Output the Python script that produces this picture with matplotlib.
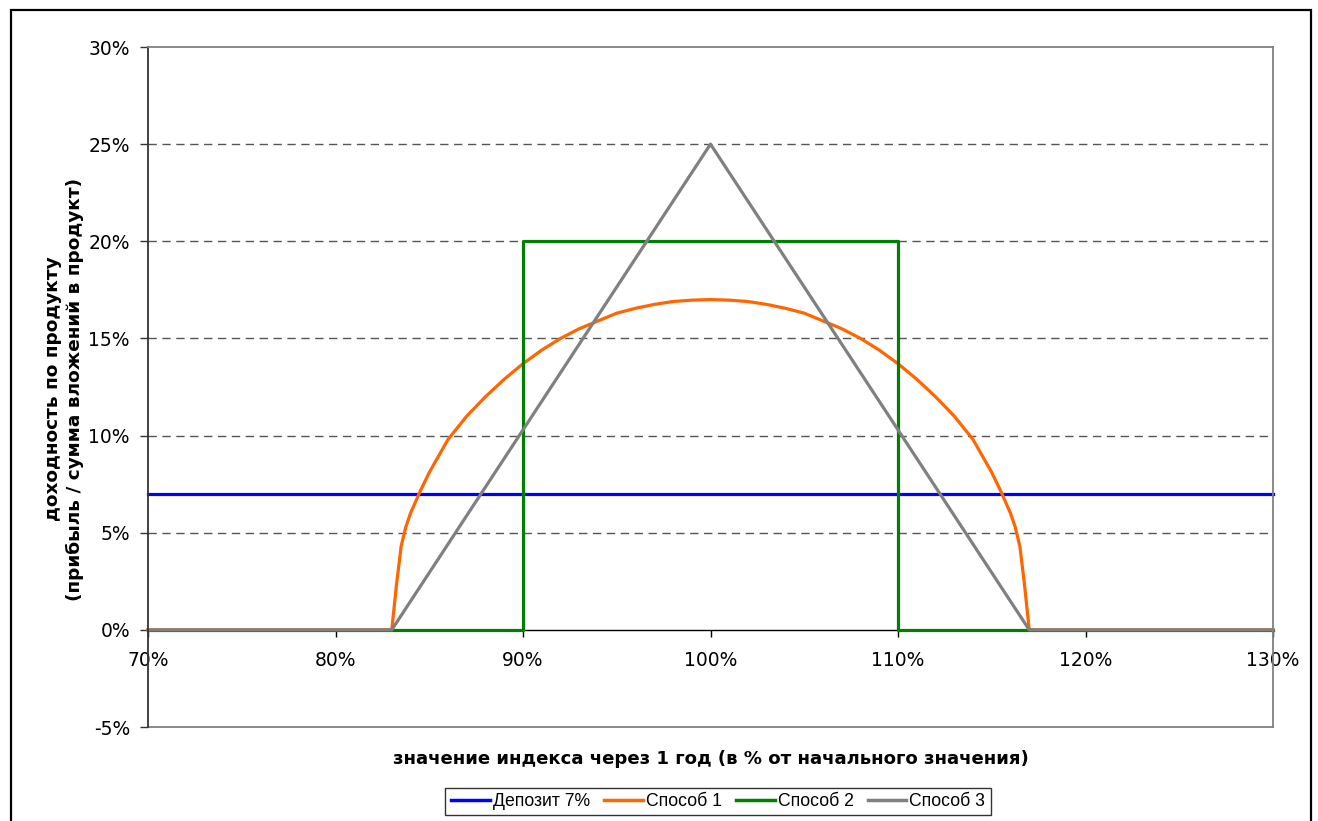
import matplotlib
matplotlib.use("Agg")
import matplotlib.pyplot as plt
from matplotlib.ticker import PercentFormatter, MultipleLocator
from matplotlib.lines import Line2D
from matplotlib.patches import Rectangle

plt.rcParams["axes.unicode_minus"] = False

# Index value after one year, % of the initial value
deposit_x = [70, 130]
deposit_y = [7, 7]

method1_x = [70, 83, 83.25, 83.5, 83.75, 84, 84.5, 85, 86, 87, 88, 89, 90, 91, 92,
             93, 94, 95, 96, 97, 98, 99, 100, 101, 102, 103, 104, 105, 106, 107,
             108, 109, 110, 111, 112, 113, 114, 115, 115.5, 116, 116.25, 116.5,
             116.75, 117, 130]
method1_y = [0, 0, 2.3, 4.3, 5.3, 6.0, 7.1, 8.1, 9.8, 11.0, 12.0, 12.9, 13.7, 14.4,
             15.0, 15.5, 15.9, 16.3, 16.55, 16.75, 16.9, 16.97, 17.0, 16.97, 16.9,
             16.75, 16.55, 16.3, 15.9, 15.5, 15.0, 14.4, 13.7, 12.9, 12.0, 11.0,
             9.8, 8.1, 7.1, 6.0, 5.3, 4.3, 2.3, 0, 0]

method2_x = [70, 90, 90, 110, 110, 130]
method2_y = [0, 0, 20, 20, 0, 0]

method3_x = [70, 83, 100, 117, 130]
method3_y = [0, 0, 25, 0, 0]

series_labels = ["Депозит 7%", "Способ 1", "Способ 2", "Способ 3"]
series_colors = ["#0000FF", "#FF6600", "#008000", "#808080"]

x_label = "значение индекса через 1 год (в % от начального значения)"
y_label = "доходность по продукту\n(прибыль / сумма вложений в продукт)"

W, H = 1318, 821
fig = plt.figure(figsize=(W / 100, H / 100), dpi=100)
ax = fig.add_axes([148 / W, 1 - 727 / H, (1273 - 148) / W, (727 - 47) / H])

lw = 2.3
series = [(deposit_x, deposit_y), (method1_x, method1_y),
          (method2_x, method2_y), (method3_x, method3_y)]
for (xs, ys), lab, col in zip(series, series_labels, series_colors):
    ax.plot(xs, ys, color=col, lw=lw, label=lab, solid_joinstyle="round",
            clip_on=False)

ax.set_xlim(70, 130)
ax.set_ylim(-5, 30)
ax.xaxis.set_major_locator(MultipleLocator(10))
ax.yaxis.set_major_locator(MultipleLocator(5))
ax.xaxis.set_major_formatter(PercentFormatter(100, decimals=0))
ax.yaxis.set_major_formatter(PercentFormatter(100, decimals=0))

# dashed horizontal gridlines
for v in [5, 10, 15, 20, 25]:
    ax.axhline(v, color="#555555", lw=1.0, ls=(0, (6, 4)), zorder=0.5)

# plot area frame
for s in ["top", "right"]:
    ax.spines[s].set_color("#808080")
    ax.spines[s].set_linewidth(1.3)
ax.spines["left"].set_color("#333333")
ax.spines["left"].set_linewidth(1.3)
ax.spines["bottom"].set_position(("data", 0))
ax.spines["bottom"].set_color("#000000")
ax.spines["bottom"].set_linewidth(1.0)
ax.spines["bottom"].set_zorder(0.6)
ax.add_line(Line2D([0, 1], [0, 0], transform=ax.transAxes, color="#808080",
                   lw=1.3, clip_on=False))

ax.tick_params(axis="y", direction="out", length=6, width=1, color="#333333",
               pad=7, labelsize=13.5, labelcolor="#000000")
ax.tick_params(axis="x", direction="out", length=5, width=1, color="#000000",
               pad=10, labelsize=13.5, labelcolor="#000000")

fig.text(711 / W, 1 - 759 / H, x_label, ha="center", va="center",
         fontsize=13.1, fontweight="bold")
fig.text(64 / W, 1 - 389 / H, y_label, ha="center", va="center",
         fontsize=13.3, fontweight="bold", rotation=90, multialignment="center",
         linespacing=1.3)

leg = fig.legend(loc="center", bbox_to_anchor=(718 / W, 1 - 801.5 / H), ncol=4,
                 frameon=True, fancybox=False, shadow=False,
                 prop={"family": "Liberation Sans", "size": 12.7},
                 handlelength=2.2, handletextpad=0.17, columnspacing=0.8,
                 borderpad=0.3, edgecolor="#000000", borderaxespad=0)
leg.get_frame().set_linewidth(1.0)
for h in leg.get_lines():
    h.set_linewidth(2.5)

# outer chart border
fig.patches.append(Rectangle((11 / W, -0.02), (1311 - 11) / W, 1 - 10 / H + 0.02,
                             transform=fig.transFigure, fill=False,
                             edgecolor="#000000", lw=1.6))

fig.savefig("out.png", dpi=100)
